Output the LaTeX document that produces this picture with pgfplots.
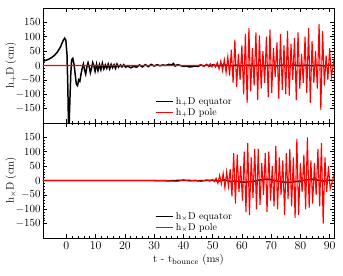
\documentclass[border=0pt]{standalone}
\usepackage{pgfplots}
\pgfplotsset{compat=1.18}
\begin{document}
\begin{tikzpicture}
\useasboundingbox (-43bp,-268bp) rectangle (300bp,8bp);
\pgfplotsset{
  every axis/.style={
    scale only axis, width=291bp, height=115bp,
    xmin=-8, xmax=91.5, ymin=-200, ymax=200,
    xtick={0,10,...,90}, minor x tick num=4,
    ytick={-150,-100,...,150}, minor y tick num=4,
    tick align=inside, tick pos=both,
    major tick length=4bp, minor tick length=2bp,
    tick style={line width=0.6pt, black},
    axis line style={line width=0.9pt},
    yticklabel style={font=\fontsize{11}{12}\selectfont, xshift=1pt},
    xticklabel style={font=\fontsize{11.5}{12}\selectfont},
    label style={font=\fontsize{11}{12}\selectfont},
    ylabel style={at={(axis description cs:-0.11,0.5)}, anchor=center},
    legend style={draw=none, fill=none, font=\fontsize{10}{11}\selectfont, at={(0.375,0.02)}, anchor=south west, row sep=-1.5pt, legend cell align=left},
    clip=true,
    xlabel shift=-2pt,
  }
}
\begin{axis}[at={(0,0)}, anchor=north west, xticklabels={}, ylabel={h$_+$D (cm)}]
\addplot[black, line width=1.5pt] coordinates {
(-8,15) (-7,18) (-6,22) (-5,28) (-4,36) (-3,48) (-2,65) (-1.2,85) (-0.6,95) (-0.2,88) (0.2,40) (0.5,-80) (0.8,-260) (1.1,-150) (1.5,-30) (1.8,20) (2.2,25) (2.6,5) (3,-30) (3.4,-65) (3.8,-70) (4.2,-50) (4.6,-55) (5,-30) (5.4,-10) (5.8,5) (6.2,-15) (6.6,-30) (7,-5) (7.4,10) (7.8,-5) (8.2,-25) (8.6,-10) (9,10) (9.4,-2) (9.8,-20) (10.3,5) (10.8,-18) (11.3,3) (11.8,-15) (12.3,8) (12.8,-12) (13.3,2) (13.8,-10) (14.3,5) (14.8,-12) (15.3,4) (15.8,-8) (16.3,3) (16.8,-10) (17.3,5) (17.8,-6) (18.5,2) (19,-5) (19.6,3) (20.2,-6) (21,-2) (22,-8) (23,-3) (24,-6) (25,2) (26,-5) (27,3) (28,-4) (29,4) (30,-2) (31,3) (32,-1) (33,2) (34,0) (35,4) (36,2) (36.6,7) (37.2,-2) (38,3) (39,0) (40,-3) (41,-2) (42,-5) (43,-4) (44,-2) (45,-3) (46,2) (47,-2) (48,3) (49,-2) (50,2) (52,-1) (54,2) (56,-1) (58,1) (60,-1) (62,1) (64,-1) (66,1) (68,-1) (70,1) (72,-1) (74,1) (76,-1) (78,1) (80,-1) (82,1) (84,-1) (86,1) (88,-1) (90,1) (91.5,0)
};
\addlegendentry{h$_+$D equator}
\addplot[red, line width=1.1pt] coordinates {
(-8,0) (45,0) (46,3) (47,-3) (48,5) (48.6,-4) (49.2,6) (49.8,-5) (50.4,4) (51,-6) (51.6,10) (52.2,-12) (52.8,15) (53.4,-18) (54,20) (54.6,-25) (55.2,30) (55.8,-35) (56.4,55) (57,-60) (57.6,90) (58.2,-75) (58.8,40) (59.4,-50) (60,70) (60.6,-100) (61.2,110) (61.8,-130) (62.4,130) (63,-90) (63.6,60) (64.2,-70) (64.8,115) (65.4,-120) (66,105) (66.6,-80) (67.2,50) (67.8,-60) (68.4,100) (69,-110) (69.6,125) (70.2,-95) (70.8,60) (71.4,-40) (72,80) (72.6,-115) (73.2,110) (73.8,-85) (74.4,70) (75,-100) (75.6,120) (76.2,-105) (76.8,75) (77.4,-50) (78,95) (78.6,-120) (79.2,115) (79.8,-80) (80.4,40) (81,-60) (81.6,100) (82.2,-95) (82.8,130) (83.4,-130) (84,85) (84.6,-60) (85.2,50) (85.8,-80) (86.4,145) (87,-155) (87.6,120) (88.2,-70) (88.8,35) (89.4,-50) (90,60) (90.6,-40) (91.5,20)
};
\addlegendentry{h$_+$D pole}
\end{axis}
\begin{axis}[at={(0,-115bp)}, anchor=north west, ylabel={h$_\times$D (cm)}, xlabel={t - t$_{\mathrm{bounce}}$ (ms)}]
\addplot[black, line width=1.5pt] coordinates {
(-8,0) (30,0) (35,-1) (40,1) (45,-1) (50,1) (52,-2) (54,2) (56,-3) (58,-2) (60,-6) (62,-5) (64,-3) (66,2) (68,4) (70,3) (72,-2) (74,-5) (76,-7) (78,-4) (80,-2) (82,2) (84,4) (86,1) (88,-2) (90,1) (91.5,0)
};
\addlegendentry{h$_\times$D equator}
\addplot[red, line width=1.1pt] coordinates {
(-8,0) (30,0) (35,-1) (38,-3) (40,2) (42,-2) (44,1) (46,-3) (48,2) (49,-2) (50,3) (50.6,-4) (51.2,8) (51.8,-10) (52.4,18) (53,-12) (53.6,25) (54.2,-25) (54.8,30) (55.4,-20) (56,40) (56.6,-55) (57.2,95) (57.8,-80) (58.4,90) (59,-40) (59.6,50) (60.2,-70) (60.8,100) (61.4,-110) (62,130) (62.6,-120) (63.2,80) (63.8,-60) (64.4,110) (65,-100) (65.6,110) (66.2,-85) (66.8,60) (67.4,-50) (68,95) (68.6,-110) (69.2,100) (69.8,-70) (70.4,50) (71,-90) (71.6,120) (72.2,-100) (72.8,80) (73.4,-50) (74,70) (74.6,-120) (75.2,95) (75.8,-65) (76.4,110) (77,-90) (77.6,80) (78.2,-130) (78.8,145) (79.4,-120) (80,60) (80.6,-40) (81.2,90) (81.8,-100) (82.4,150) (83,-95) (83.6,70) (84.2,-80) (84.8,60) (85.4,-50) (86,110) (86.6,-90) (87.2,130) (87.8,-150) (88.4,80) (89,-40) (89.6,50) (90.2,-30) (91.5,20)
};
\addlegendentry{h$_\times$D pole}
\end{axis}
\end{tikzpicture}
\end{document}
